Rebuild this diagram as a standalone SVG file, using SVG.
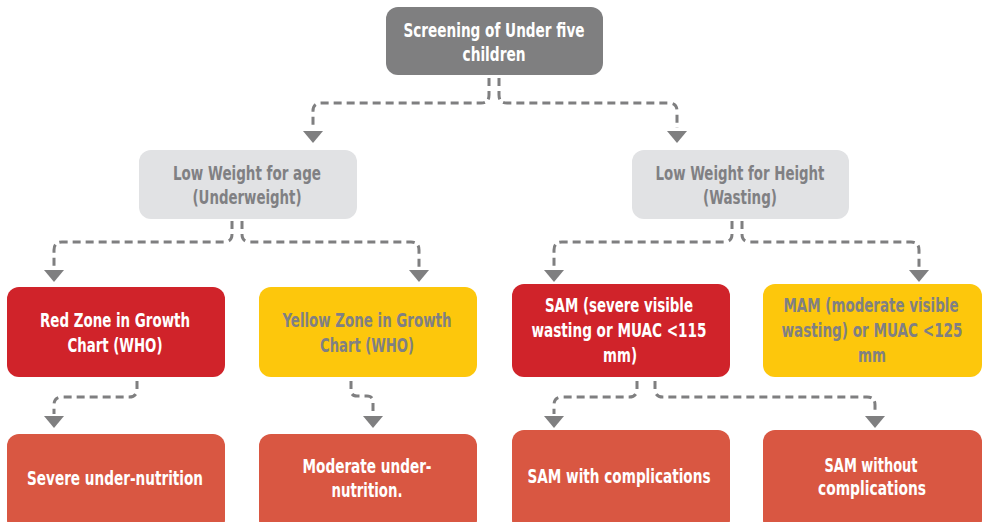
<svg xmlns="http://www.w3.org/2000/svg" width="984" height="522" viewBox="0 0 984 522">
  <defs>
    <path id="arrow" d="M-10,0 L10,0 L0,12 Z" fill="#7f7f80"/>
  </defs>
  <style>
    text { font-family: "DejaVu Sans Condensed", "Roboto", sans-serif; font-weight: bold; font-size: 20px; text-anchor: middle; }
    .wt { fill: #ffffff; }
    .gt { fill: #808083; }
    .dark { fill: #7f7f80; }
    .light { fill: #e1e2e4; }
    .red { fill: #d0232a; }
    .yellow { fill: #fdc70c; }
    .coral { fill: #d95742; }
    .link { fill: none; stroke: #7f7f80; stroke-width: 3; stroke-dasharray: 8 5; }
  </style>

  <rect width="984" height="522" fill="#ffffff"/>

  <!-- dashed connectors and their arrowheads -->
  <g id="connectors">
    <path class="link" d="M489,78 V95 Q489,103 481,103 H321 Q313,103 313,111 V128"/>
    <path class="link" d="M499,78 V95 Q499,103 507,103 H669 Q677,103 677,111 V128"/>
    <path class="link" d="M232,221 V234 Q232,242 224,242 H62 Q54,242 54,250 V267"/>
    <path class="link" d="M242,221 V234 Q242,242 250,242 H411 Q419,242 419,250 V267"/>
    <path class="link" d="M732,221 V234 Q732,242 724,242 H562 Q554,242 554,250 V267"/>
    <path class="link" d="M742,221 V234 Q742,242 750,242 H911 Q919,242 919,250 V267"/>
    <path class="link" d="M137,381 V389 Q137,397 129,397 H62 Q54,397 54,405 V414"/>
    <path class="link" d="M351,381 V390 Q351,396 357,396 H367 Q373,396 373,402 V414"/>
    <path class="link" d="M637,381 V389 Q637,397 629,397 H562 Q554,397 554,405 V414"/>
    <path class="link" d="M655,381 V389 Q655,397 663,397 H867 Q875,397 875,405 V414"/>
    <use href="#arrow" x="313" y="131"/>
    <use href="#arrow" x="677" y="131"/>
    <use href="#arrow" x="54" y="270"/>
    <use href="#arrow" x="419" y="270"/>
    <use href="#arrow" x="554" y="270"/>
    <use href="#arrow" x="919" y="270"/>
    <use href="#arrow" x="54" y="416"/>
    <use href="#arrow" x="373" y="416"/>
    <use href="#arrow" x="554" y="416"/>
    <use href="#arrow" x="875" y="416"/>
  </g>

  <g id="screening">
    <rect class="dark" x="386" y="7" width="217" height="68" rx="12"/>
    <text class="wt" x="494" y="37" textLength="181" lengthAdjust="spacingAndGlyphs">Screening of Under five</text>
    <text class="wt" x="494" y="61" textLength="63" lengthAdjust="spacingAndGlyphs">children</text>
  </g>

  <g id="underweight">
    <rect class="light" x="139" y="150" width="218" height="69" rx="12"/>
    <text class="gt" x="247" y="180" textLength="148" lengthAdjust="spacingAndGlyphs">Low Weight for age</text>
    <text class="gt" x="247" y="204" textLength="109" lengthAdjust="spacingAndGlyphs">(Underweight)</text>
  </g>

  <g id="wasting">
    <rect class="light" x="632" y="150" width="217" height="69" rx="12"/>
    <text class="gt" x="740" y="180" textLength="169" lengthAdjust="spacingAndGlyphs">Low Weight for Height</text>
    <text class="gt" x="740" y="204" textLength="74" lengthAdjust="spacingAndGlyphs">(Wasting)</text>
  </g>

  <g id="red-zone">
    <rect class="red" x="7" y="287" width="218" height="90" rx="12"/>
    <text class="wt" x="115" y="327" textLength="150" lengthAdjust="spacingAndGlyphs">Red Zone in Growth</text>
    <text class="wt" x="115" y="352" textLength="95" lengthAdjust="spacingAndGlyphs">Chart (WHO)</text>
  </g>

  <g id="yellow-zone">
    <rect class="yellow" x="259" y="287" width="218" height="90" rx="12"/>
    <text class="gt" x="367" y="327" textLength="169" lengthAdjust="spacingAndGlyphs">Yellow Zone in Growth</text>
    <text class="gt" x="367" y="352" textLength="94" lengthAdjust="spacingAndGlyphs">Chart (WHO)</text>
  </g>

  <g id="sam">
    <rect class="red" x="512" y="284" width="218" height="93" rx="12"/>
    <text class="wt" x="619" y="312" textLength="148" lengthAdjust="spacingAndGlyphs">SAM (severe visible</text>
    <text class="wt" x="619" y="337" textLength="175" lengthAdjust="spacingAndGlyphs">wasting or MUAC &lt;115</text>
    <text class="wt" x="620" y="362" textLength="34" lengthAdjust="spacingAndGlyphs">mm)</text>
  </g>

  <g id="mam">
    <rect class="yellow" x="763" y="284" width="219" height="93" rx="12"/>
    <text class="gt" x="871" y="312" textLength="175" lengthAdjust="spacingAndGlyphs">MAM (moderate visible</text>
    <text class="gt" x="872" y="337" textLength="181" lengthAdjust="spacingAndGlyphs">wasting) or MUAC &lt;125</text>
    <text class="gt" x="872" y="362" textLength="28" lengthAdjust="spacingAndGlyphs">mm</text>
  </g>

  <g id="severe">
    <rect class="coral" x="7" y="434" width="218" height="98" rx="12"/>
    <text class="wt" x="115" y="485" textLength="176" lengthAdjust="spacingAndGlyphs">Severe under-nutrition</text>
  </g>

  <g id="moderate">
    <rect class="coral" x="259" y="434" width="218" height="98" rx="12"/>
    <text class="wt" x="367" y="473" textLength="129" lengthAdjust="spacingAndGlyphs">Moderate under-</text>
    <text class="wt" x="367" y="497" textLength="71" lengthAdjust="spacingAndGlyphs">nutrition.</text>
  </g>

  <g id="sam-complicated">
    <rect class="coral" x="512" y="430" width="218" height="102" rx="12"/>
    <text class="wt" x="619" y="483" textLength="183" lengthAdjust="spacingAndGlyphs">SAM with complications</text>
  </g>

  <g id="sam-uncomplicated">
    <rect class="coral" x="763" y="430" width="219" height="102" rx="12"/>
    <text class="wt" x="871" y="472" textLength="93" lengthAdjust="spacingAndGlyphs">SAM without</text>
    <text class="wt" x="872" y="495" textLength="108" lengthAdjust="spacingAndGlyphs">complications</text>
  </g>
</svg>
